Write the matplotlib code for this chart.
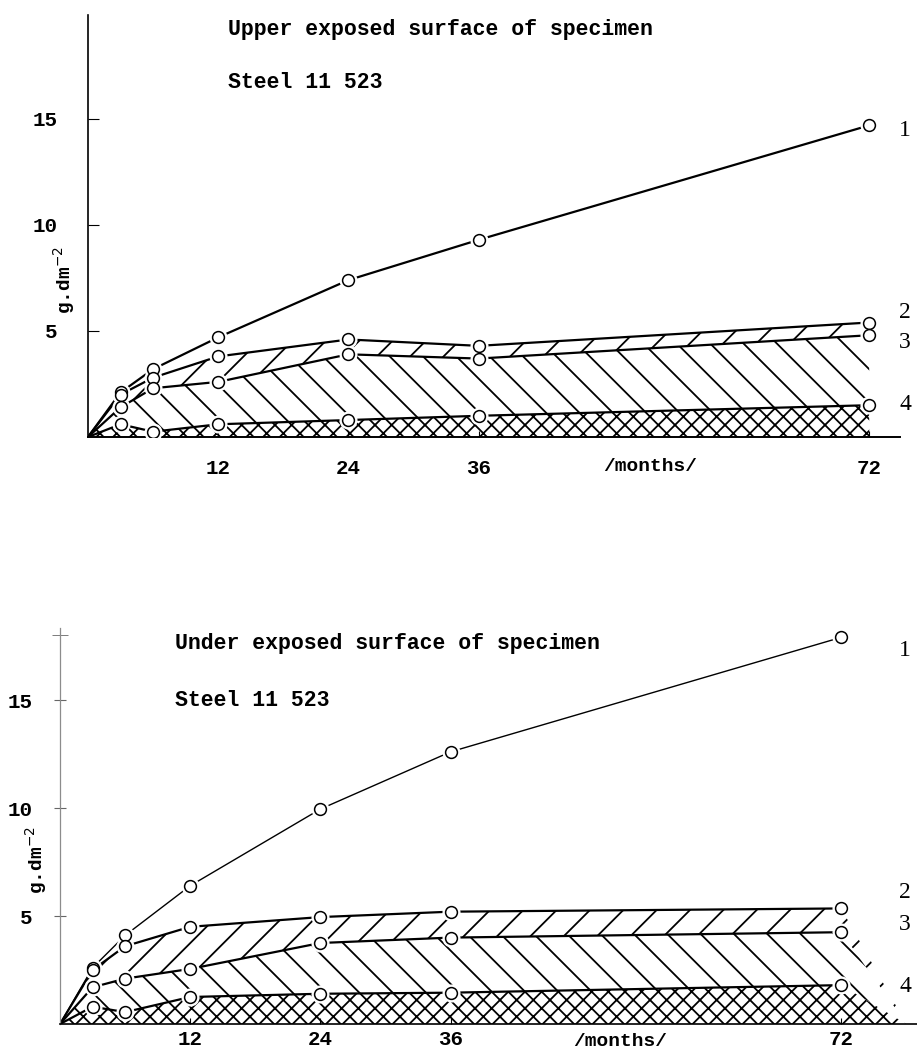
import matplotlib
matplotlib.use("Agg")
import matplotlib.pyplot as plt

# months of exposure (0 = start)
months = [0, 3, 6, 12, 24, 36, 72]
xtick_months = [12, 24, 36, 72]
ytick_values = [5, 10, 15]

# upper exposed surface, g.dm-2
upper_1 = [0, 2.1, 3.2, 4.7, 7.4, 9.3, 14.7]
upper_2 = [0, 2.0, 2.8, 3.8, 4.6, 4.3, 5.4]
upper_3 = [0, 1.4, 2.3, 2.6, 3.9, 3.7, 4.8]
upper_4 = [0, 0.6, 0.25, 0.6, 0.8, 1.0, 1.5]

# under exposed surface, g.dm-2
under_1 = [0, 2.6, 4.1, 6.4, 9.95, 12.6, 17.9]
under_2 = [0, 2.5, 3.6, 4.5, 4.95, 5.2, 5.35]
under_3 = [0, 1.7, 2.1, 2.55, 3.75, 4.0, 4.25]
under_4 = [0, 0.8, 0.55, 1.25, 1.4, 1.45, 1.8]

series_names = ["1", "2", "3", "4"]

W, H = 917, 1052
MONO = "Liberation Mono"
SERIF = "Liberation Serif"
plt.rcParams["hatch.linewidth"] = 1.3

fig = plt.figure(figsize=(W / 100, H / 100), dpi=100)


def fx(px):
    return px / W


def fy(py):
    return 1 - py / H


def add_panel(left, top, right, bottom, xmax, ymax):
    ax = fig.add_axes([fx(left), fy(bottom), (right - left) / W, (bottom - top) / H])
    ax.set_xlim(0, xmax)
    ax.set_ylim(0, ymax)
    for side in ("top", "right"):
        ax.spines[side].set_visible(False)
    return ax


def draw_series(ax, s1, s2, s3, s4, lw_top, tail=None):
    fx_ = list(months)
    f2, f3, f4 = list(s2), list(s3), list(s4)
    if tail is not None:
        fx_ = fx_ + [tail]
        f2, f3, f4 = f2 + [0], f3 + [0], f4 + [0]
    ax.fill_between(fx_, f3, f2, facecolor="white", edgecolor="black", hatch="/", linewidth=0, zorder=1)
    ax.fill_between(fx_, f4, f3, facecolor="white", edgecolor="black", hatch="\\", linewidth=0, zorder=1)
    ax.fill_between(fx_, 0, f4, facecolor="white", edgecolor="black", hatch="xx", linewidth=0, zorder=1)
    for s, lw in zip([s1, s2, s3, s4], [lw_top, 1.6, 1.6, 1.6]):
        ax.plot(months, s, color="black", lw=lw, zorder=2)
    for s in [s1, s2, s3, s4]:
        ax.plot(months[1:], s[1:], "o", ms=12, color="white", zorder=3)
        ax.plot(months[1:], s[1:], "o", ms=8.5, mfc="white", mec="black", mew=1.1, zorder=4)


def style_ticks(ax, ypad, xpad, ycolor, ydir):
    ax.set_yticks(ytick_values)
    ax.set_xticks(xtick_months)
    ax.set_yticklabels([str(v) for v in ytick_values], fontfamily=MONO, fontweight="bold", fontsize=15)
    ax.set_xticklabels([str(v) for v in xtick_months], fontfamily=MONO, fontweight="bold", fontsize=15)
    ax.tick_params(axis="y", direction=ydir, length=8, pad=ypad, color=ycolor)
    ax.tick_params(axis="x", direction="in", length=4, pad=xpad)


# ---- upper panel
ax1 = add_panel(88, 15, 900, 437, (900 - 88) / 10.85, (437 - 15) / 21.2)
draw_series(ax1, upper_1, upper_2, upper_3, upper_4, 1.6)
style_ticks(ax1, 22, 16, "black", "in")
ax1.spines["left"].set_linewidth(1.2)
ax1.spines["bottom"].set_linewidth(1.4)

fig.text(fx(228), fy(30), "Upper exposed surface of specimen", fontfamily=MONO,
         fontweight="bold", fontsize=15.5, va="center")
fig.text(fx(228), fy(82), "Steel 11 523", fontfamily=MONO, fontweight="bold",
         fontsize=15.5, va="center")
fig.text(fx(64), fy(280), "g.dm$^{-2}$", rotation=90, fontfamily=MONO,
         fontweight="bold", fontsize=14, ha="center", va="center")
fig.text(fx(650), fy(466), "/months/", fontfamily=MONO, fontweight="bold",
         fontsize=14, ha="center", va="center")
for name, py in zip(series_names, [130, 312, 343, 405]):
    fig.text(fx(905), fy(py), name, fontfamily=SERIF, fontsize=17, ha="center", va="center")

# ---- under panel
ax2 = add_panel(60, 628, 917, 1024, (917 - 60) / 10.85, (1024 - 628) / 21.6)
draw_series(ax2, under_1, under_2, under_3, under_4, 1.0, tail=78)
style_ticks(ax2, 16, 4, "0.4", "inout")
ax2.spines["left"].set_color("0.55")
ax2.spines["left"].set_linewidth(0.9)
ax2.spines["bottom"].set_linewidth(1.2)
ax2.set_yticks([18], minor=True)
ax2.tick_params(axis="y", which="minor", direction="inout", length=12, color="0.4")

fig.text(fx(175), fy(643), "Under exposed surface of specimen", fontfamily=MONO,
         fontweight="bold", fontsize=15.5, va="center")
fig.text(fx(175), fy(700), "Steel 11 523", fontfamily=MONO, fontweight="bold",
         fontsize=15.5, va="center")
fig.text(fx(36), fy(860), "g.dm$^{-2}$", rotation=90, fontfamily=MONO,
         fontweight="bold", fontsize=14, ha="center", va="center")
fig.text(fx(620), fy(1042), "/months/", fontfamily=MONO, fontweight="bold",
         fontsize=14, ha="center", va="center")
for name, py in zip(series_names, [650, 893, 925, 987]):
    fig.text(fx(905), fy(py), name, fontfamily=SERIF, fontsize=17, ha="center", va="center")

fig.savefig("out.png", dpi=100, facecolor="white")
